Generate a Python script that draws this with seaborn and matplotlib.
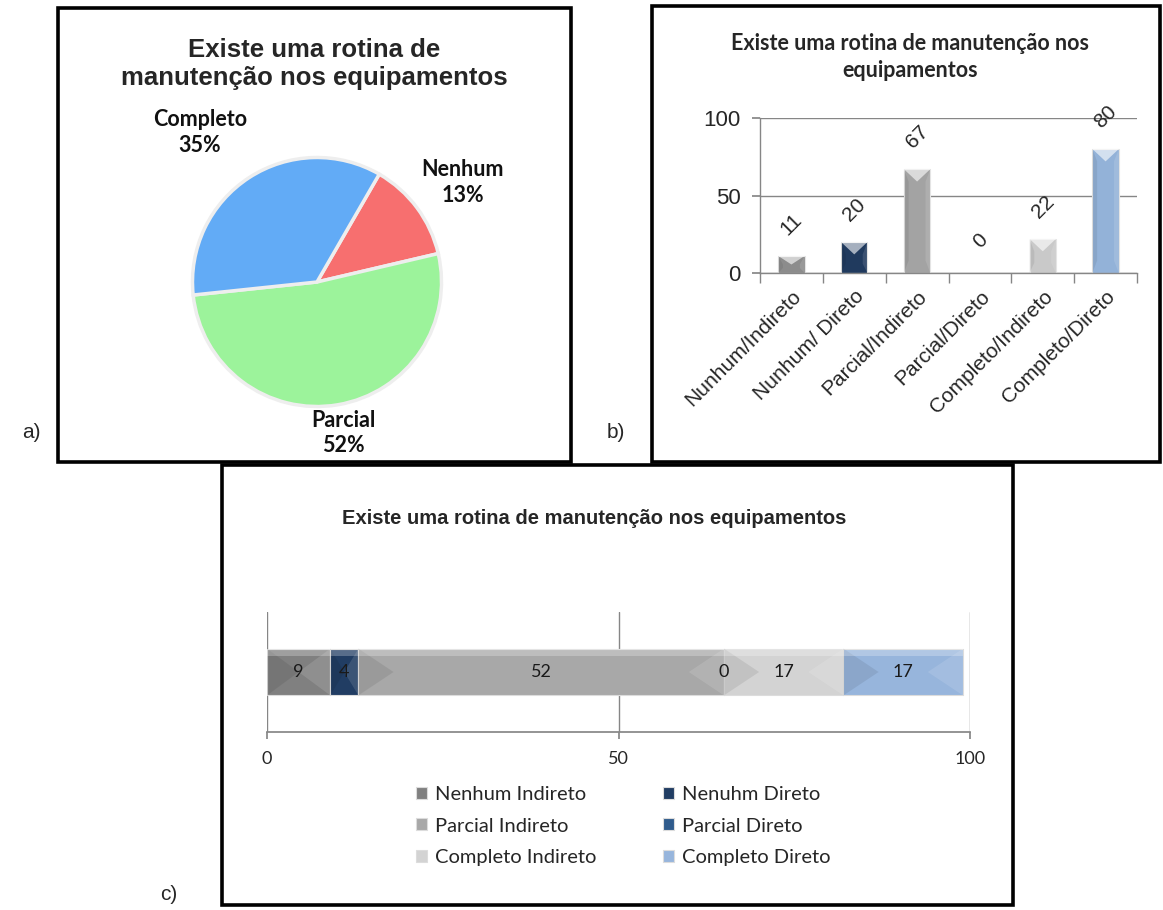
import matplotlib
matplotlib.use("Agg")
import matplotlib.pyplot as plt
from matplotlib.patches import Rectangle, Polygon
import numpy as np
import pandas as pd
import seaborn as sns

sns.set_theme(style="white")
plt.rcParams["font.family"] = ["Liberation Sans", "DejaVu Sans"]

# ---- data -------------------------------------------------------------
TITLE = "Existe uma rotina de manutenção nos equipamentos"

pie_labels = ["Nenhum", "Parcial", "Completo"]
pie_values = [13, 52, 35]
pie_colors = ["#f76f6f", "#9cf39b", "#62abf6"]

bar_cats = ["Nunhum/Indireto", "Nunhum/ Direto", "Parcial/Indireto",
            "Parcial/Direto", "Completo/Indireto", "Completo/Direto"]
bar_values = [11, 20, 67, 0, 22, 80]
bar_colors = ["#8c8c8c", "#203a5e", "#a3a3a3", "#2f5b8c", "#c9c9c9", "#93b2d8"]

stack_names = ["Nenhum Indireto", "Nenuhm Direto", "Parcial Indireto",
               "Parcial Direto", "Completo Indireto", "Completo Direto"]
stack_values = [9, 4, 52, 0, 17, 17]
stack_colors = ["#808080", "#213d63", "#a8a8a8", "#2f5b8c", "#d3d3d3", "#97b5dc"]

W, H = 1163, 910
fig = plt.figure(figsize=(W / 100, H / 100), dpi=100)


def rect(x0, y0, x1, y1):
    return [x0 / W, 1 - y1 / H, (x1 - x0) / W, (y1 - y0) / H]


def frame(x0, y0, x1, y1):
    fig.patches.append(Rectangle((x0 / W, 1 - y1 / H), (x1 - x0) / W, (y1 - y0) / H,
                                 transform=fig.transFigure, fill=False,
                                 edgecolor="black", linewidth=2.6, zorder=10))


def px(x, y):
    return x / W, 1 - y / H


frame(58, 8, 571, 462)
frame(652, 6, 1160, 462)
frame(222, 465, 1013, 905)

fig.text(*px(22, 432), "a)", fontsize=15, va="center", ha="left")
fig.text(*px(607, 432), "b)", fontsize=15, va="center", ha="left")
fig.text(*px(160, 895), "c)", fontsize=15, va="center", ha="left")

# ---- a) pie -----------------------------------------------------------
fig.text(*px(314, 64), "Existe uma rotina de\nmanutenção nos equipamentos",
         ha="center", va="center", fontsize=18.5, fontweight="bold",
         linespacing=1.25)

ax_a = fig.add_axes(rect(190, 155, 444, 409))
ax_a.pie(pie_values, colors=pie_colors, startangle=60,
         counterclock=False, radius=1.0,
         wedgeprops=dict(edgecolor="#eeeeee", linewidth=2.5))
ax_a.set_xlim(-1.02, 1.02)
ax_a.set_ylim(-1.02, 1.02)
ax_a.set_aspect("equal")
ax_a.axis("off")

label_pos = {"Nenhum": (1.17, 0.80), "Parcial": (0.21, -1.21),
             "Completo": (-0.94, 1.20)}
for lab, val in zip(pie_labels, pie_values):
    lx, ly = label_pos[lab]
    ax_a.text(lx, ly, f"{lab}\n{val}%", ha="center", va="center",
              fontsize=15.5, fontweight="bold", family=["Lato", "DejaVu Sans"],
              linespacing=1.25, color="#111111")

# ---- b) vertical bars ---------------------------------------------------
fig.text(*px(910, 57), "Existe uma rotina de manutenção nos\nequipamentos",
         ha="center", va="center", fontsize=15.5, fontweight="bold",
         family=["Lato", "DejaVu Sans"], linespacing=1.3)

ax_b = fig.add_axes(rect(760, 118, 1137, 273))
df_b = pd.DataFrame({"cat": bar_cats, "val": bar_values})
sns.barplot(data=df_b, x="cat", y="val", hue="cat", palette=bar_colors,
            legend=False, width=0.42, ax=ax_b, edgecolor="#e4e4e4",
            linewidth=0.8, saturation=1)
for p in list(ax_b.patches):
    x0, y0 = p.get_x(), p.get_y()
    w, h = p.get_width(), p.get_height()
    if h <= 0:
        continue
    d = min(8.0, h * 0.5)
    # light bevel on the top face
    ax_b.add_patch(Polygon([(x0, y0 + h), (x0 + w, y0 + h), (x0 + w / 2, y0 + h - d)],
                           closed=True, facecolor="white", alpha=0.6,
                           edgecolor="none", zorder=3))
    # darker / lighter facets on the sides
    ax_b.add_patch(Polygon([(x0, y0), (x0 + w * 0.18, y0 + min(d, h * 0.3)),
                            (x0 + w * 0.18, y0 + h - d), (x0, y0 + h)],
                           closed=True, facecolor="black", alpha=0.07,
                           edgecolor="none", zorder=3))
    ax_b.add_patch(Polygon([(x0 + w, y0), (x0 + w * 0.82, y0 + min(d, h * 0.3)),
                            (x0 + w * 0.82, y0 + h - d), (x0 + w, y0 + h)],
                           closed=True, facecolor="white", alpha=0.12,
                           edgecolor="none", zorder=3))
for i, v in enumerate(bar_values):
    ax_b.annotate(str(v), (i, v), xytext=(0, 23), textcoords="offset points",
                  ha="center", va="center", rotation=45, fontsize=15)

ax_b.set_ylim(0, 100)
ax_b.set_xlim(-0.5, len(bar_cats) - 0.5)
ax_b.set_yticks([0, 50, 100])
ax_b.yaxis.grid(True, color="#868686", linewidth=1)
ax_b.set_axisbelow(True)
ax_b.set_xlabel("")
ax_b.set_ylabel("")
ax_b.tick_params(axis="y", labelsize=16, length=6, color="#868686",
                 direction="out", left=True, pad=8)
ax_b.set_xticks(range(len(bar_cats)))
ax_b.set_xticklabels(bar_cats, rotation=45, ha="right", rotation_mode="anchor",
                     fontsize=15)
ax_b.set_xticks(np.arange(-0.5, len(bar_cats)), minor=True)
ax_b.tick_params(axis="x", which="major", length=0, pad=10)
ax_b.tick_params(axis="x", which="minor", length=7, color="#868686",
                 direction="out", bottom=True)
for s in ["top", "right"]:
    ax_b.spines[s].set_visible(False)
for s in ["left", "bottom"]:
    ax_b.spines[s].set_color("#868686")
    ax_b.spines[s].set_linewidth(1)

# ---- c) stacked horizontal bar -----------------------------------------
fig.text(*px(594, 519), TITLE, ha="center", va="center", fontsize=14.5,
         fontweight="bold")

ax_c = fig.add_axes(rect(267, 612, 970, 732))
lefts = np.concatenate([[0], np.cumsum(stack_values)[:-1]])
bh = 0.39
for name, v, l, c in zip(stack_names, stack_values, lefts, stack_colors):
    ax_c.barh(0, v, left=l, height=bh, color=c, label=name,
              edgecolor="#dcdcdc", linewidth=0.8, zorder=2)
    if v > 0:
        tri = min(v * 0.5, 5.0)
        # bevel facets at both ends of each segment
        ax_c.add_patch(Polygon([(l, -bh / 2), (l, bh / 2), (l + tri, 0)], closed=True,
                               facecolor="black", alpha=0.08, edgecolor="none", zorder=3))
        ax_c.add_patch(Polygon([(l + v, -bh / 2), (l + v, bh / 2), (l + v - tri, 0)],
                               closed=True, facecolor="white", alpha=0.12,
                               edgecolor="none", zorder=3))
        # lighter top band
        ax_c.add_patch(Rectangle((l, bh / 2 - 0.06), v, 0.06, facecolor="white",
                                 alpha=0.25, edgecolor="none", zorder=3))
    ax_c.text(l + v / 2, 0, str(v), ha="center", va="center", fontsize=13,
              family=["Lato", "DejaVu Sans"], color="#1a1a1a", zorder=4)

ax_c.set_xlim(0, 100)
ax_c.set_ylim(-0.5, 0.5)
ax_c.set_yticks([])
ax_c.set_xticks([0, 50, 100])
ax_c.xaxis.grid(True, color="#868686", linewidth=1)
ax_c.set_axisbelow(True)
for s in ["top", "right", "left"]:
    ax_c.spines[s].set_visible(False)
ax_c.spines["bottom"].set_color("#868686")
ax_c.tick_params(axis="x", length=5, color="#868686", direction="out",
                 bottom=True, labelsize=13, pad=9)
for t in ax_c.get_xticklabels():
    t.set_family(["Lato", "DejaVu Sans"])

handles, labels = ax_c.get_legend_handles_labels()
order = [0, 2, 4, 1, 3, 5]
fig.legend([handles[i] for i in order], [labels[i] for i in order],
           loc="upper left", bbox_to_anchor=px(416, 786), ncol=2,
           frameon=False, handlelength=0.55, handleheight=0.55,
           handletextpad=0.4, columnspacing=3.3, labelspacing=0.72,
           borderpad=0, borderaxespad=0,
           prop={"family": ["Lato", "DejaVu Sans"], "size": 14.5})

fig.savefig("out.png", dpi=100, facecolor="white")
